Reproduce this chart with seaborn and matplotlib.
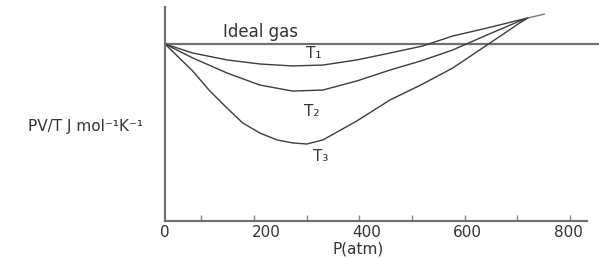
import matplotlib
matplotlib.use("Agg")
import matplotlib.pyplot as plt
import seaborn as sns

# values: P in atm, PV/T scaled so the ideal gas = 1
p_t1 = [0, 55, 123, 188, 253, 313, 380, 446, 511, 570, 638, 703, 719]
pv_t1 = [1.0, 0.949, 0.910, 0.887, 0.876, 0.881, 0.910, 0.949, 0.989, 1.045, 1.090, 1.136, 1.147]

p_t2 = [0, 55, 123, 188, 253, 313, 380, 446, 508, 570, 638, 703, 719]
pv_t2 = [1.0, 0.921, 0.836, 0.768, 0.734, 0.740, 0.791, 0.853, 0.905, 0.966, 1.051, 1.130, 1.147]

p_t3 = [0, 55, 89, 123, 154, 188, 222, 253, 281, 313, 380, 446, 508, 570, 638, 703, 719]
pv_t3 = [1.0, 0.847, 0.734, 0.638, 0.554, 0.497, 0.458, 0.441, 0.435, 0.458, 0.565,
         0.684, 0.770, 0.864, 0.994, 1.119, 1.147]

p_tail = [719, 752]
pv_tail = [1.147, 1.169]

p_ideal = [0, 860]
pv_ideal = [1.0, 1.0]

curve_labels = ["T\u2081", "T\u2082", "T\u2083"]
label_pos = [(295, 0.949), (291, 0.616), (309, 0.362)]

xtick_values = [0, 200, 400, 600, 800]
minor_ticks = [71, 176, 281, 384, 489, 594, 697, 802]

sns.set_style("white")
plt.rcParams['font.family'] = ['DejaVu Sans']

fig = plt.figure(figsize=(5.99, 2.6), dpi=100)
ax = fig.add_axes([165 / 599, 39 / 260, 1 - 165 / 599, 214 / 260])

axis_grey = "#707070"
line_dark = "#3c3c3c"
text_col = "#333333"

sns.lineplot(x=p_ideal, y=pv_ideal, color=axis_grey, linewidth=1.6, ax=ax)
for px, py in [(p_t1, pv_t1), (p_t2, pv_t2), (p_t3, pv_t3)]:
    sns.lineplot(x=px, y=py, color=line_dark, linewidth=1.0, sort=False, ax=ax)
sns.lineplot(x=p_tail, y=pv_tail, color="#777777", linewidth=1.0, ax=ax)

for lab, (lx, ly) in zip(curve_labels, label_pos):
    ax.text(lx, ly, lab, ha="center", va="center", fontsize=11, color=text_col)
ax.text(115, 1.068, "Ideal gas", ha="left", va="center", fontsize=12, color=text_col)

ax.set_xlim(0, 860)
ax.set_ylim(0, 1.209)
sns.despine(ax=ax)
ax.spines['left'].set_color(axis_grey)
ax.spines['bottom'].set_color(axis_grey)
ax.spines['left'].set_linewidth(1.6)
ax.spines['bottom'].set_linewidth(1.6)
ax.spines['bottom'].set_bounds(0, 836)

ax.set_yticks([])
ax.set_xticks(xtick_values)
ax.set_xticks(minor_ticks, minor=True)
ax.tick_params(axis="x", which="both", bottom=True)
ax.tick_params(axis="x", which="major", length=0, pad=3, labelsize=11, labelcolor=text_col)
ax.tick_params(axis="x", which="minor", direction="in", length=4.5, width=1.0, color="#888888")

fig.text(358 / 599, 1 - 249 / 260, "P(atm)", ha="center", va="center", fontsize=11, color=text_col)
fig.text(86 / 599, 1 - 126 / 260, "PV/T J mol\u207b\u00b9K\u207b\u00b9", ha="center", va="center",
         fontsize=11, color=text_col)

fig.savefig("out.png", dpi=100)
